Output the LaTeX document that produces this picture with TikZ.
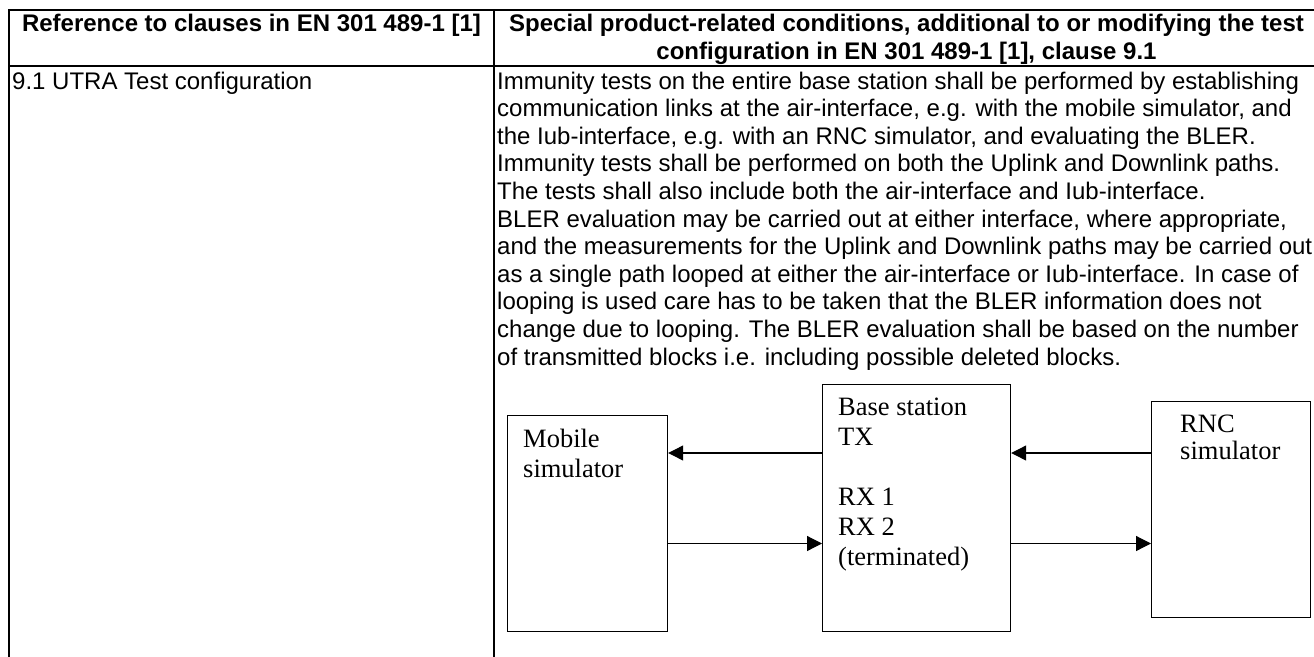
\documentclass[tikz,border=0pt]{standalone}
\usepackage{fontspec}
\setmainfont{Liberation Serif}
\setsansfont{Liberation Sans}
\usetikzlibrary{arrows.meta}

\tikzset{
  rule/.style={line width=2.2pt},
  cell/.style={font=\sffamily\fontsize{24}{27.6}\selectfont, inner sep=0pt, align=left, anchor=north west},
  head/.style={font=\sffamily\bfseries\fontsize{24}{27.6}\selectfont, inner sep=0pt, align=center, anchor=north},
  unit/.style={draw, line width=1.2pt, inner sep=0pt, anchor=north west},
  unitlabel/.style={font=\fontsize{26.5}{30}\selectfont, inner sep=0pt, align=left, anchor=north west},
  link/.style={->, line width=1.2pt}
}

\begin{document}
\begin{tikzpicture}[>={Triangle[length=15pt,width=15pt]}, x=1pt, y=-1pt]
\useasboundingbox (0,0) rectangle (1314,656);
\clip (0,0) rectangle (1314,656);

\def\xl{9}
\def\xm{494}
\def\xr{1320}

\draw[rule] (\xl,700) -- (\xl,10) -- (\xr,10) -- (\xr,700);
\draw[rule] (\xl,66) -- (\xr,66);
\draw[rule] (\xm,10) -- (\xm,700);

\node[head] (hleft) at (251.5,14) {Reference to clauses in EN 301 489-1 [1]};
\node[head] (hright) at (906.5,14) {Special product-related conditions, additional to or modifying the test\\configuration in EN 301 489-1 [1], clause 9.1};
\node[cell] (clause) at (12,71.5) {9.1 UTRA Test configuration};
\node[cell] (cond) at (497,71.5) {Immunity tests on the entire base station shall be performed by establishing\\
communication links at the air-interface, e.g. with the mobile simulator, and\\
the Iub-interface, e.g. with an RNC simulator, and evaluating the BLER.\\
Immunity tests shall be performed on both the Uplink and Downlink paths.\\
The tests shall also include both the air-interface and Iub-interface.\\
BLER evaluation may be carried out at either interface, where appropriate,\\
and the measurements for the Uplink and Downlink paths may be carried out\\
as a single path looped at either the air-interface or Iub-interface. In case of\\
looping is used care has to be taken that the BLER information does not\\
change due to looping. The BLER evaluation shall be based on the number\\
of transmitted blocks i.e. including possible deleted blocks.};

\node[unit, minimum width=160pt, minimum height=216pt] (mobile) at (507,415) {};
\node[unit, minimum width=188pt, minimum height=247pt] (bs) at (822,384) {};
\node[unit, minimum width=159pt, minimum height=216pt] (rnc) at (1151,401) {};

\node[unitlabel] (mobiletext) at (523,428.5) {Mobile\\simulator};
\node[unitlabel] (bstext) at (838,398) {Base station\\TX\\[30pt]RX 1\\RX 2\\(terminated)};
\node[unitlabel, font=\fontsize{26.5}{27.5}\selectfont] (rnctext) at (1180,414.5) {RNC\\simulator};

\coordinate (up) at (0,453);
\coordinate (down) at (0,543.5);
\draw[link] (bs.west |- up) -- (mobile.east |- up);
\draw[link] (mobile.east |- down) -- (bs.west |- down);
\draw[link] (rnc.west |- up) -- (bs.east |- up);
\draw[link] (bs.east |- down) -- (rnc.west |- down);
\end{tikzpicture}
\end{document}
